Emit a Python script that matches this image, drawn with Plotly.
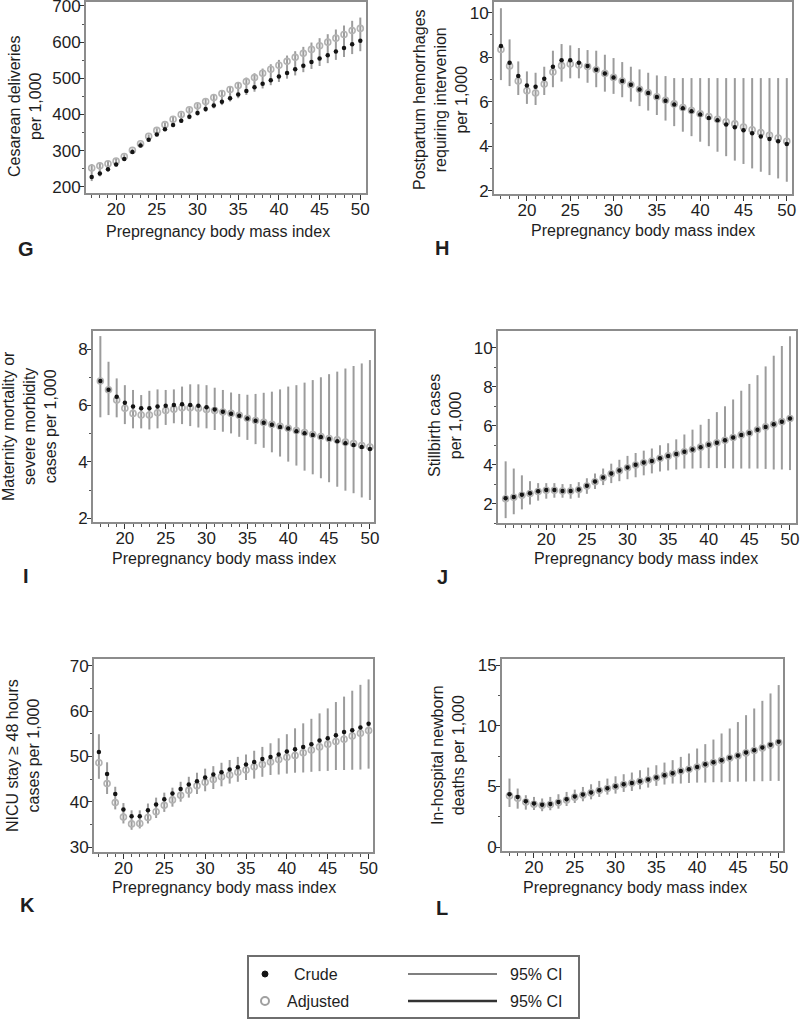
import plotly.graph_objects as go

W, H = 800, 1021

# ---------------- data ----------------
bmi17 = list(range(17, 51))
bmi15 = list(range(15, 51))

# G: Cesarean deliveries per 1,000
g_crude = [227, 237, 249, 262, 277, 296, 314, 330, 345, 359, 371, 383, 394, 404, 415, 425, 435,
           445, 455, 465, 475, 485, 495, 505, 515, 525, 535, 545, 555, 564, 574, 584, 594, 604]
g_adj = [252, 258, 264, 271, 284, 301, 319, 340, 356, 372, 387, 400, 413, 424, 436, 447, 458,
         469, 480, 491, 502, 514, 525, 536, 547, 558, 569, 580, 590, 600, 611, 621, 632, 638]
g_lo = [216, 229, 242, 256, 272, 291, 309, 325, 340, 354, 365, 377, 387, 397, 407, 417, 426,
        436, 445, 454, 463, 472, 481, 490, 499, 508, 517, 526, 534, 542, 551, 559, 567, 575]
g_hi = [263, 267, 272, 278, 290, 306, 324, 345, 362, 378, 393, 406, 420, 431, 444, 455, 467,
        478, 490, 502, 514, 527, 539, 551, 563, 575, 587, 599, 611, 622, 635, 646, 659, 668]

# H: Postpartum hemorrhages requiring intervention per 1,000
h_crude = [8.50, 7.75, 7.15, 6.73, 6.67, 7.03, 7.57, 7.86, 7.86, 7.75, 7.60, 7.44, 7.27, 7.09,
           6.93, 6.76, 6.55, 6.39, 6.21, 6.04, 5.87, 5.70, 5.57, 5.42, 5.27, 5.16, 4.97, 4.85,
           4.71, 4.58, 4.44, 4.32, 4.22, 4.10]
h_adj = [8.35, 7.60, 6.93, 6.49, 6.39, 6.79, 7.33, 7.62, 7.69, 7.65, 7.58, 7.43, 7.27, 7.09,
         6.93, 6.76, 6.56, 6.40, 6.22, 6.06, 5.90, 5.74, 5.60, 5.46, 5.33, 5.21, 5.09, 5.00,
         4.86, 4.74, 4.61, 4.49, 4.37, 4.22]
h_lo = [6.97, 6.70, 6.30, 5.90, 5.85, 6.30, 6.65, 6.90, 7.05, 7.05, 6.85, 6.65, 6.45, 6.35,
        6.20, 6.00, 5.80, 5.60, 5.40, 5.15, 4.90, 4.65, 4.45, 4.20, 4.00, 3.75, 3.55, 3.35,
        3.20, 3.00, 2.85, 2.70, 2.55, 2.40]
h_hi = [10.20, 8.80, 7.81, 7.36, 7.30, 7.57, 8.29, 8.59, 8.53, 8.41, 8.32, 8.29, 8.11, 7.96,
        7.78, 7.57, 7.45, 7.30, 7.18, 7.15, 7.06, 7.06, 7.06, 7.06, 7.06, 7.06, 7.06, 7.06,
        7.06, 7.06, 7.06, 7.06, 7.06, 7.06]

# I: Maternity mortality or severe morbidity cases per 1,000
i_crude = [6.87, 6.56, 6.31, 6.10, 5.96, 5.90, 5.90, 5.96, 5.99, 6.02, 6.04, 6.02, 5.99, 5.94,
           5.86, 5.78, 5.71, 5.64, 5.54, 5.46, 5.39, 5.32, 5.24, 5.18, 5.09, 5.02, 4.95, 4.88,
           4.81, 4.73, 4.66, 4.60, 4.53, 4.46]
i_adj = [6.87, 6.56, 6.19, 5.90, 5.72, 5.66, 5.66, 5.74, 5.82, 5.87, 5.92, 5.92, 5.90, 5.86,
         5.82, 5.77, 5.72, 5.65, 5.55, 5.47, 5.40, 5.33, 5.26, 5.19, 5.11, 5.04, 4.97, 4.90,
         4.83, 4.78, 4.70, 4.65, 4.58, 4.53]
i_lo = [5.58, 5.66, 5.58, 5.34, 5.19, 5.19, 5.15, 5.19, 5.31, 5.37, 5.34, 5.27, 5.22, 5.19,
        5.13, 5.07, 5.01, 4.89, 4.78, 4.63, 4.50, 4.34, 4.19, 4.01, 3.87, 3.69, 3.56, 3.42,
        3.28, 3.12, 2.98, 2.89, 2.74, 2.65]
i_hi = [8.46, 7.55, 6.96, 6.72, 6.55, 6.37, 6.52, 6.57, 6.55, 6.57, 6.67, 6.75, 6.75, 6.72,
        6.63, 6.55, 6.46, 6.41, 6.38, 6.41, 6.45, 6.49, 6.57, 6.67, 6.72, 6.81, 6.90, 7.00,
        7.11, 7.20, 7.31, 7.40, 7.49, 7.61]

# J: Stillbirth cases per 1,000 (BMI 15-50)
j_crude = [2.27, 2.34, 2.45, 2.53, 2.63, 2.69, 2.69, 2.65, 2.65, 2.72, 2.91, 3.13, 3.34, 3.54,
           3.70, 3.85, 3.99, 4.11, 4.19, 4.33, 4.45, 4.55, 4.66, 4.78, 4.90, 5.02, 5.12, 5.25,
           5.39, 5.53, 5.63, 5.79, 5.94, 6.08, 6.21, 6.37]
j_adj = [2.25, 2.32, 2.43, 2.52, 2.62, 2.68, 2.68, 2.64, 2.64, 2.71, 2.90, 3.12, 3.33, 3.53,
         3.69, 3.84, 3.98, 4.10, 4.19, 4.33, 4.45, 4.55, 4.66, 4.78, 4.90, 5.02, 5.12, 5.25,
         5.39, 5.53, 5.63, 5.79, 5.94, 6.08, 6.21, 6.37]
j_lo = [1.25, 1.45, 1.70, 1.95, 2.15, 2.25, 2.30, 2.30, 2.25, 2.30, 2.50, 2.75, 2.95, 3.05,
        3.15, 3.25, 3.35, 3.45, 3.55, 3.65, 3.70, 3.75, 3.80, 3.80, 3.82, 3.82, 3.82, 3.82,
        3.80, 3.80, 3.80, 3.80, 3.78, 3.75, 3.75, 3.72]
j_hi = [4.17, 3.80, 3.45, 3.15, 3.05, 3.05, 3.05, 3.00, 3.00, 3.10, 3.30, 3.55, 3.80, 4.05,
        4.25, 4.45, 4.60, 4.72, 4.83, 5.00, 5.10, 5.30, 5.55, 5.80, 6.05, 6.35, 6.70, 7.00,
        7.35, 7.80, 8.15, 8.60, 9.05, 9.60, 10.10, 10.60]

# K: NICU stay >= 48 hours cases per 1,000
k_crude = [51.0, 46.1, 41.7, 38.3, 36.8, 36.8, 38.1, 39.4, 40.55, 41.8, 42.8, 43.8, 44.5, 45.35,
           46.0, 46.5, 47.1, 47.6, 48.2, 48.75, 49.4, 49.85, 50.4, 51.1, 51.6, 52.1, 52.7, 53.5,
           54.0, 54.65, 55.4, 55.8, 56.4, 57.2]
k_adj = [48.6, 44.0, 39.8, 36.6, 35.1, 35.2, 36.5, 37.8, 39.2, 40.4, 41.4, 42.5, 43.5, 44.3,
         44.9, 45.5, 45.9, 46.5, 47.0, 47.7, 48.2, 48.75, 49.3, 49.8, 50.2, 50.8, 51.4, 52.1,
         52.7, 53.3, 53.8, 54.5, 55.1, 55.7]
k_lo = [45.05, 41.7, 38.3, 35.2, 33.8, 34.1, 35.2, 36.4, 37.75, 38.9, 40.0, 40.9, 41.7, 42.3,
        42.8, 43.4, 44.0, 44.4, 44.8, 45.1, 45.5, 45.9, 46.0, 46.2, 46.4, 46.45, 46.6, 46.75,
        46.8, 47.0, 47.0, 47.05, 47.1, 47.3]
k_hi = [54.9, 48.7, 43.3, 39.7, 38.1, 38.1, 39.6, 40.9, 42.0, 43.1, 44.4, 45.5, 46.4, 47.3,
        47.85, 48.6, 49.2, 49.9, 50.4, 51.25, 52.1, 52.9, 54.0, 54.9, 56.2, 57.3, 58.3, 59.5,
        60.6, 62.0, 63.2, 64.5, 65.8, 67.0]

# L: In-hospital newborn deaths per 1,000
l_crude = [4.35, 4.13, 3.77, 3.58, 3.49, 3.55, 3.71, 3.93, 4.16, 4.32, 4.49, 4.68, 4.84, 5.01,
           5.17, 5.28, 5.42, 5.56, 5.72, 5.92, 6.08, 6.27, 6.41, 6.60, 6.82, 6.99, 7.16, 7.35,
           7.54, 7.79, 7.98, 8.20, 8.42, 8.67]
l_adj = [4.22, 4.02, 3.70, 3.52, 3.44, 3.50, 3.66, 3.88, 4.11, 4.28, 4.46, 4.65, 4.82, 4.99,
         5.15, 5.27, 5.41, 5.55, 5.71, 5.91, 6.07, 6.26, 6.40, 6.59, 6.80, 6.97, 7.14, 7.33,
         7.52, 7.76, 7.95, 8.17, 8.38, 8.62]
l_lo = [3.30, 3.16, 3.08, 3.05, 2.95, 3.03, 3.16, 3.38, 3.63, 3.77, 3.93, 4.13, 4.32, 4.40,
        4.54, 4.62, 4.76, 4.90, 5.04, 5.15, 5.23, 5.23, 5.28, 5.31, 5.31, 5.34, 5.34, 5.37,
        5.39, 5.39, 5.42, 5.42, 5.45, 5.45]
l_hi = [5.64, 4.82, 4.27, 4.13, 4.00, 4.13, 4.35, 4.54, 4.73, 4.95, 5.17, 5.45, 5.64, 5.83,
        6.00, 6.14, 6.33, 6.55, 6.74, 6.96, 7.16, 7.43, 7.71, 8.12, 8.48, 8.86, 9.36, 9.77,
        10.30, 10.87, 11.42, 12.05, 12.66, 13.35]

x_ticks = [20, 25, 30, 35, 40, 45, 50]

# ---------------- styling / layout ----------------
FONT = "Arial, 'Liberation Sans', Helvetica, sans-serif"
TXT = "#1e1e1e"
BORDER = "#8c8c8c"
CI_COL = "#9c9c9c"
ADJ_COL = "#b2b2b2"
CRUDE_COL = "#141414"

panels = [
    dict(x=bmi17, c=g_crude, a=g_adj, lo=g_lo, hi=g_hi, box=(86, 366, 2, 193),
         xr=[16.3, 50.7], yr=[183, 711], yt=[200, 300, 400, 500, 600, 700], ym=50,
         yt_title="Cesarean deliveries<br>per 1,000", ytp=(25, 107), xtp=(218, 231),
         letter="G", lp=(26, 249)),
    dict(x=bmi17, c=h_crude, a=h_adj, lo=h_lo, hi=h_hi, box=(494, 792, 2, 194),
         xr=[16.2, 50.6], yr=[1.85, 10.48], yt=[2, 4, 6, 8, 10], ym=1,
         yt_title="Postpartum hemorrhages<br>requiring intervenion<br>per 1,000", ytp=(441, 100),
         xtp=(643, 230), letter="H", lp=(442, 248)),
    dict(x=bmi17, c=i_crude, a=i_adj, lo=i_lo, hi=i_hi, box=(93, 374, 331, 522),
         xr=[16.1, 50.5], yr=[1.87, 8.64], yt=[2, 4, 6, 8], ym=1,
         yt_title="Maternity mortality or<br>severe morbidity<br>cases per 1,000", ytp=(29, 426),
         xtp=(224, 558), letter="I", lp=(26, 576)),
    dict(x=bmi15, c=j_crude, a=j_adj, lo=j_lo, hi=j_hi, box=(498, 796, 331, 523),
         xr=[14.06, 50.74], yr=[1.0, 10.87], yt=[2, 4, 6, 8, 10], ym=1,
         yt_title="Stillbirth cases<br>per 1,000", ytp=(445, 426),
         xtp=(646, 558), letter="J", lp=(442, 577)),
    dict(x=bmi17, c=k_crude, a=k_adj, lo=k_lo, hi=k_hi, box=(94, 373, 659, 852),
         xr=[16.4, 50.54], yr=[28.9, 71.5], yt=[30, 40, 50, 60, 70], ym=5,
         yt_title="NICU stay ≥ 48 hours<br>cases per 1,000", ytp=(23, 756),
         xtp=(224, 887), letter="K", lp=(27, 905)),
    dict(x=bmi17, c=l_crude, a=l_adj, lo=l_lo, hi=l_hi, box=(502, 783, 659, 851),
         xr=[16.08, 50.53], yr=[-0.33, 15.5], yt=[0, 5, 10, 15], ym=2.5,
         yt_title="In-hospital newborn<br>deaths per 1,000", ytp=(448, 755),
         xtp=(635, 887), letter="L", lp=(442, 908)),
]


def px(x):
    return x / W


def py(y):
    return 1 - y / H


fig = go.Figure()
annotations = []
shapes = []
layout = {}

for i, p in enumerate(panels, start=1):
    xa = "x" if i == 1 else f"x{i}"
    ya = "y" if i == 1 else f"y{i}"
    # CI segments
    sx, sy = [], []
    for xv, lo, hi in zip(p["x"], p["lo"], p["hi"]):
        sx += [xv, xv, None]
        sy += [lo, hi, None]
    fig.add_trace(go.Scatter(x=sx, y=sy, mode="lines", xaxis=xa, yaxis=ya,
                             line=dict(color=CI_COL, width=2), showlegend=False,
                             hoverinfo="skip"))
    fig.add_trace(go.Scatter(x=p["x"], y=p["a"], mode="markers", xaxis=xa, yaxis=ya,
                             marker=dict(symbol="circle-open", size=6, color=ADJ_COL,
                                         line=dict(color=ADJ_COL, width=1.6)),
                             showlegend=False, name="Adjusted"))
    fig.add_trace(go.Scatter(x=p["x"], y=p["c"], mode="markers", xaxis=xa, yaxis=ya,
                             marker=dict(symbol="circle", size=4.5, color=CRUDE_COL,
                                         line=dict(width=0)),
                             showlegend=False, name="Crude"))
    x0, x1, y0, y1 = p["box"]
    key = "" if i == 1 else str(i)
    layout[f"xaxis{key}"] = dict(
        domain=[px(x0), px(x1)], range=p["xr"], anchor=ya, tickvals=x_ticks,
        automargin=False, ticklabelstandoff=-5, ticklabeloverflow="allow",
        showline=True, mirror=True, linecolor=BORDER, linewidth=2,
        ticks="outside", ticklen=5, tickcolor="#333", tickwidth=1,
        minor=dict(dtick=1, tick0=0, ticks="outside", ticklen=3, tickcolor="#555"),
        showgrid=False, zeroline=False,
        tickfont=dict(family=FONT, size=17, color=TXT))
    layout[f"yaxis{key}"] = dict(
        domain=[py(y1), py(y0)], range=p["yr"], anchor=xa, tickvals=p["yt"],
        automargin=False, ticklabelstandoff=-4, ticklabeloverflow="allow",
        showline=True, mirror=True, linecolor=BORDER, linewidth=2,
        ticks="outside", ticklen=4, tickcolor="#333", tickwidth=1,
        minor=dict(dtick=p["ym"], tick0=0, ticks="outside", ticklen=2, tickcolor="#555"),
        showgrid=False, zeroline=False,
        tickfont=dict(family=FONT, size=17, color=TXT))
    annotations.append(dict(x=px(p["ytp"][0]), y=py(p["ytp"][1]), xref="paper", yref="paper",
                            text=p["yt_title"], textangle=-90, showarrow=False,
                            xanchor="center", yanchor="middle",
                            font=dict(family=FONT, size=16, color=TXT)))
    annotations.append(dict(x=px(p["xtp"][0]), y=py(p["xtp"][1]), xref="paper", yref="paper",
                            text="Prepregnancy body mass index", showarrow=False,
                            xanchor="center", yanchor="middle",
                            font=dict(family=FONT, size=16, color=TXT)))
    annotations.append(dict(x=px(p["lp"][0]), y=py(p["lp"][1]), xref="paper", yref="paper",
                            text=f"<b>{p['letter']}</b>", showarrow=False,
                            xanchor="center", yanchor="middle",
                            font=dict(family=FONT, size=20, color=TXT)))

# ---------------- legend (drawn box) ----------------
shapes.append(dict(type="rect", xref="paper", yref="paper",
                   x0=px(248), x1=px(579), y0=py(1018), y1=py(956),
                   line=dict(color="#6e6e6e", width=2), fillcolor="white"))
shapes.append(dict(type="circle", xref="paper", yref="paper",
                   x0=px(262), x1=px(268), y0=py(977), y1=py(971),
                   line=dict(color=CRUDE_COL, width=1), fillcolor=CRUDE_COL))
shapes.append(dict(type="circle", xref="paper", yref="paper",
                   x0=px(261), x1=px(269), y0=py(1005), y1=py(997),
                   line=dict(color="#a0a0a0", width=2), fillcolor="white"))
shapes.append(dict(type="line", xref="paper", yref="paper",
                   x0=px(408), x1=px(497), y0=py(974), y1=py(974),
                   line=dict(color="#555", width=1.5)))
shapes.append(dict(type="line", xref="paper", yref="paper",
                   x0=px(408), x1=px(497), y0=py(1001), y1=py(1001),
                   line=dict(color="#333", width=2.5)))
for txt, xx, yy in [("Crude", 292, 974), ("Adjusted", 285, 1001),
                    ("95% CI", 508, 974), ("95% CI", 508, 1001)]:
    annotations.append(dict(x=px(xx), y=py(yy), xref="paper", yref="paper", text=txt,
                            showarrow=False, xanchor="left", yanchor="middle",
                            font=dict(family=FONT, size=16, color=TXT)))

fig.update_layout(template="none", width=W, height=H, autosize=False,
                  margin=dict(l=0, r=0, t=0, b=0, pad=0),
                  paper_bgcolor="white", plot_bgcolor="white",
                  showlegend=False, annotations=annotations, shapes=shapes, **layout)

fig.write_html("out.html", config={"displayModeBar": False},
               post_script="document.body.style.margin='0px';"
                           "document.body.style.padding='0px';"
                           "document.body.style.overflow='hidden';")
